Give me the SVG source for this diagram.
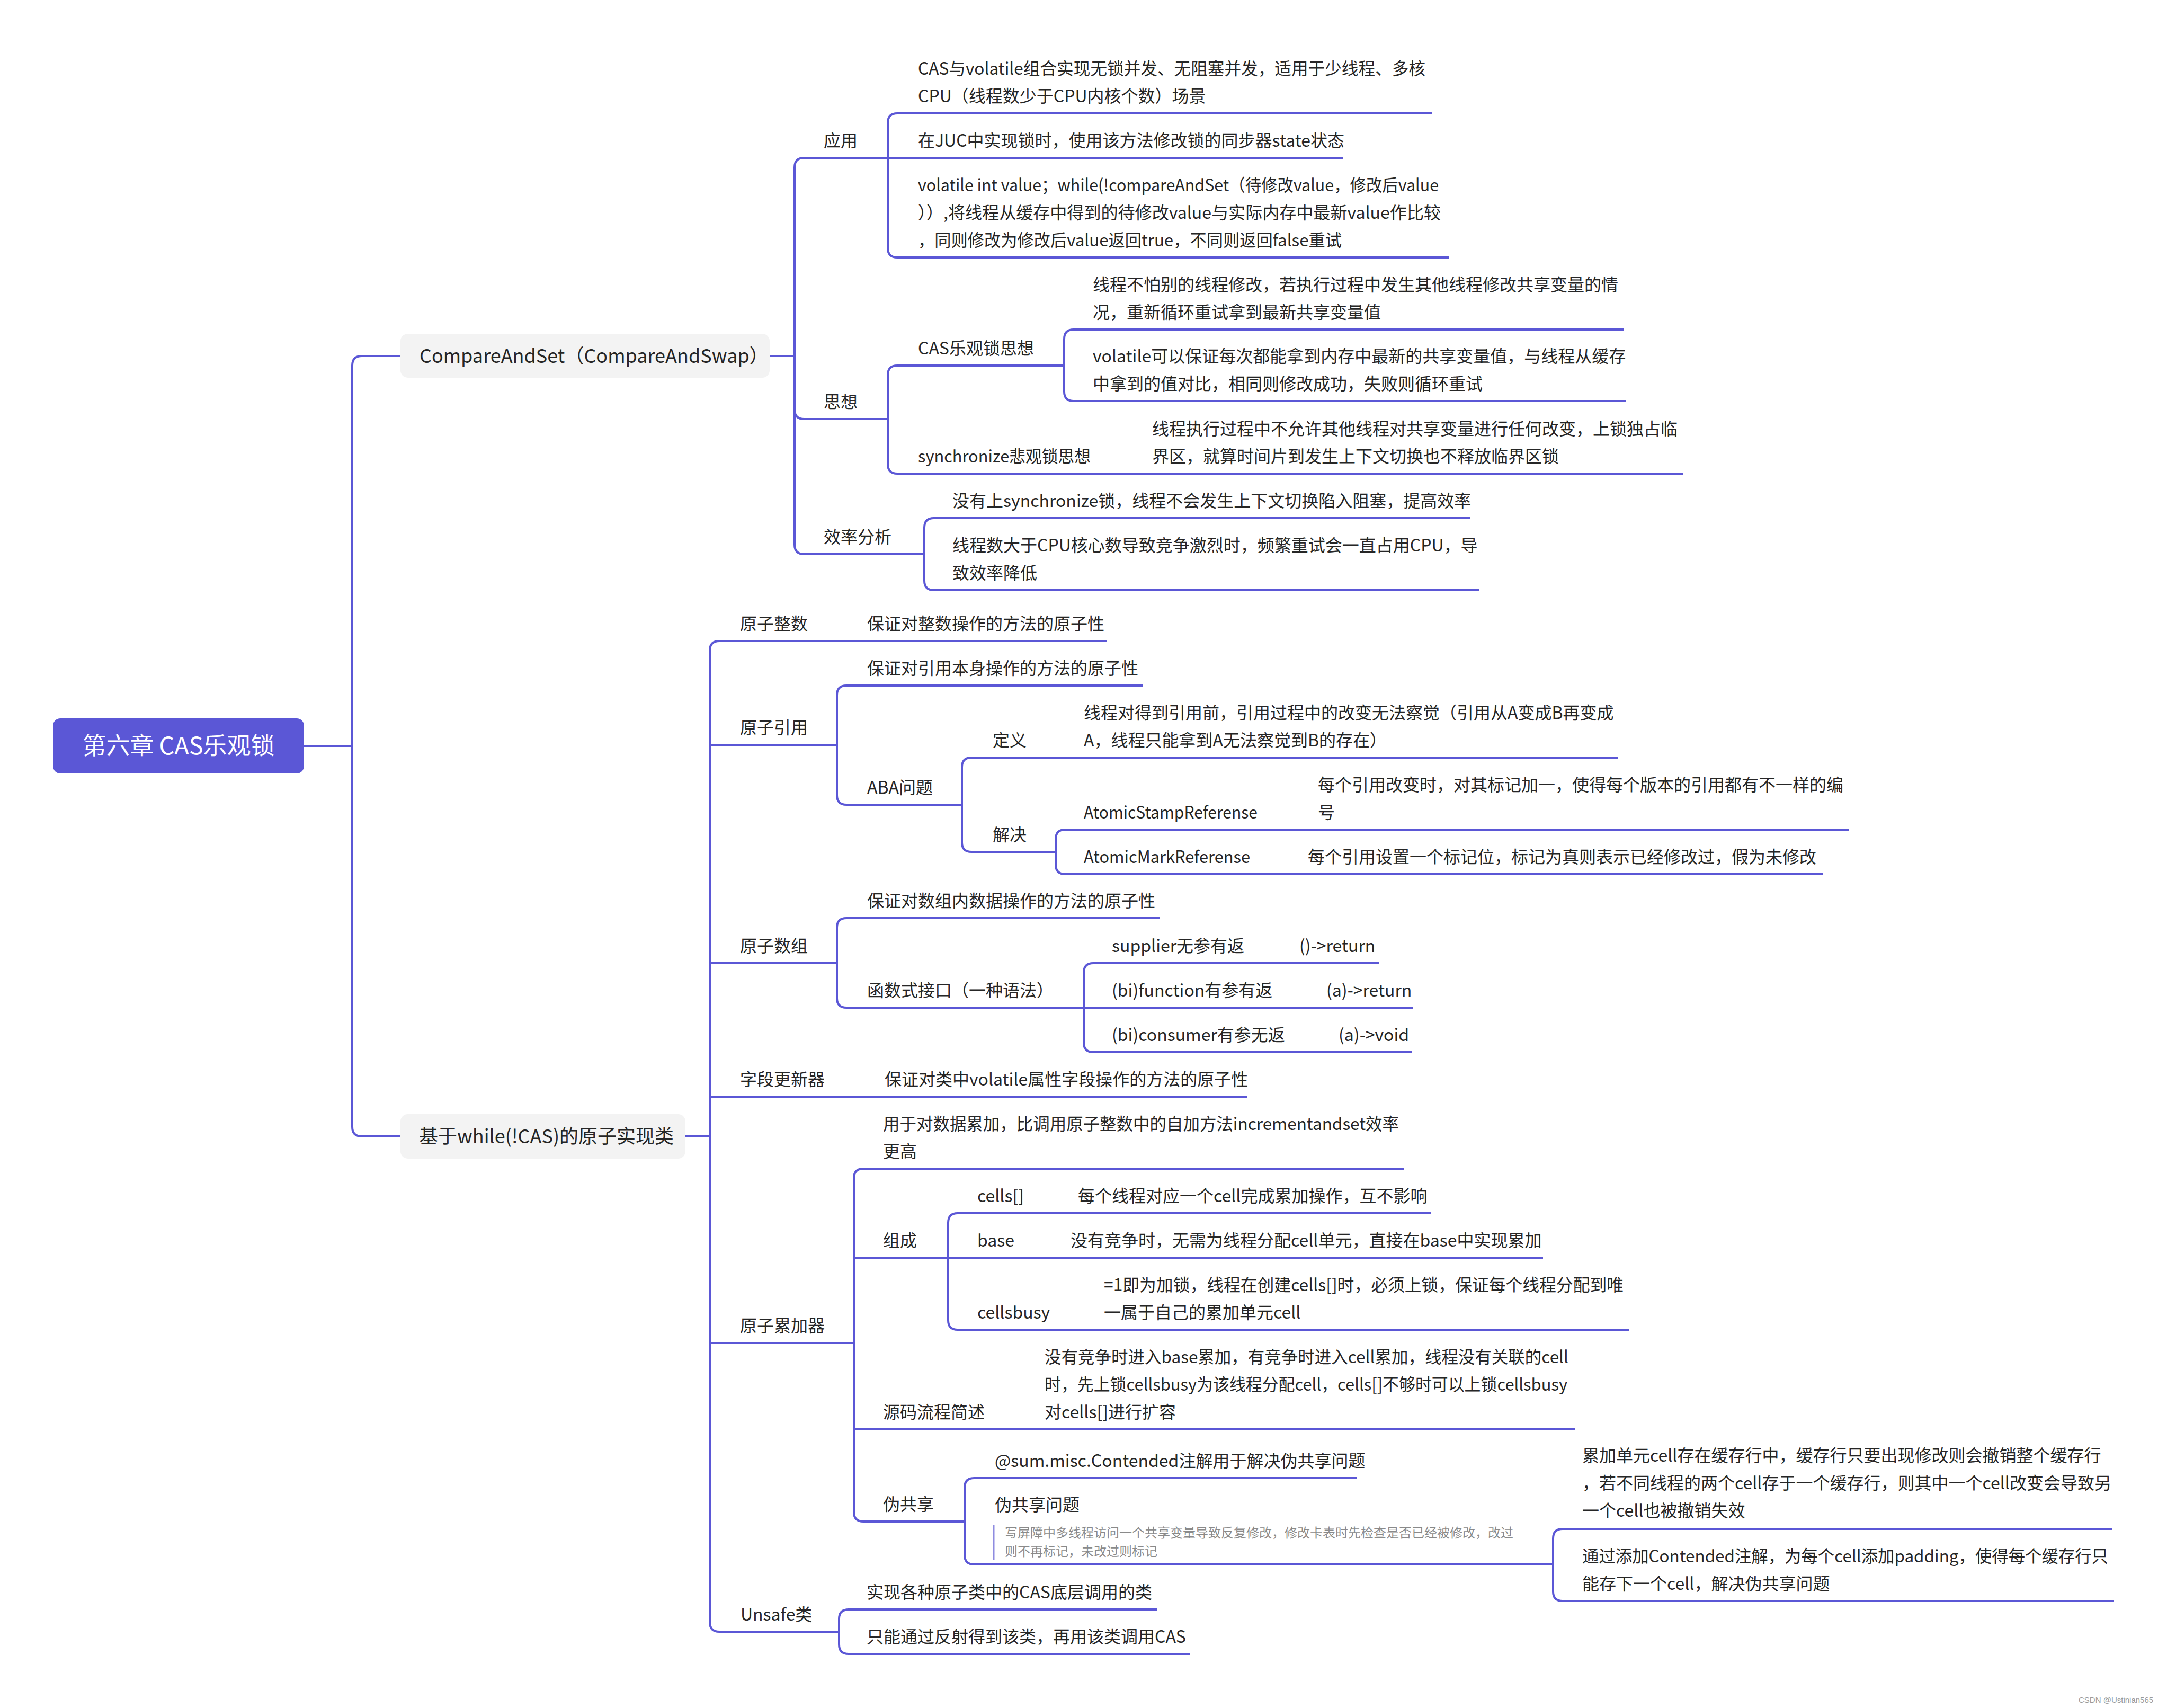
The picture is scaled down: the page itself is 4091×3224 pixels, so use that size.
<svg xmlns="http://www.w3.org/2000/svg" width="4091" height="3224" viewBox="0 0 4091 3224">
<style>
.c{fill:none;stroke:#5B57D6;stroke-width:4;stroke-linecap:butt;stroke-linejoin:round}
.t{font-family:"Noto Sans CJK SC","Noto Sans",sans-serif;font-size:32px;fill:#262626}
.l1{font-family:"Noto Sans CJK SC","Noto Sans",sans-serif;font-size:36px;fill:#262626}
.rt{font-family:"Noto Sans CJK SC","Noto Sans",sans-serif;font-size:45px;fill:#ffffff}
.note{font-family:"Noto Sans CJK SC","Noto Sans",sans-serif;font-size:24px;fill:#8a8a8a}
.box{fill:#F3F3F3}
.wm{font-family:"Liberation Sans",Arial,sans-serif;font-size:15px;fill:#9a9a9a}
</style>
<rect width="4091" height="3224" fill="#ffffff"/>
<g id="connectors">
<path class="c" d="M574 1408H665V690Q665 672 683 672H756"/>
<path class="c" d="M665 1408V2127Q665 2145 683 2145H756"/>
<path class="c" d="M1453 672H1500V316Q1500 298 1518 298H1676"/>
<path class="c" d="M1500 672V773Q1500 791 1518 791H1676"/>
<path class="c" d="M1500 672V1028Q1500 1046 1518 1046H1745"/>
<path class="c" d="M1676 298V232Q1676 214 1694 214H2703"/>
<path class="c" d="M1676 298H2535"/>
<path class="c" d="M1676 298V468Q1676 486 1694 486H2736"/>
<path class="c" d="M1676 791V708Q1676 690 1694 690H2009"/>
<path class="c" d="M1676 791V876Q1676 894 1694 894H3177"/>
<path class="c" d="M2009 690V640Q2009 622 2027 622H3066"/>
<path class="c" d="M2009 690V739Q2009 757 2027 757H3069"/>
<path class="c" d="M1745 1046V996Q1745 978 1763 978H2776"/>
<path class="c" d="M1745 1046V1096Q1745 1114 1763 1114H2792"/>
<path class="c" d="M1294 2145H1340V1228Q1340 1210 1358 1210H2090"/>
<path class="c" d="M1340 2145V1406H1580"/>
<path class="c" d="M1340 2145V1818H1580"/>
<path class="c" d="M1340 2145V2070H2355"/>
<path class="c" d="M1340 2145V2535H1612"/>
<path class="c" d="M1340 2145V3062Q1340 3080 1358 3080H1584"/>
<path class="c" d="M1580 1406V1312Q1580 1294 1598 1294H2158"/>
<path class="c" d="M1580 1406V1501Q1580 1519 1598 1519H1816"/>
<path class="c" d="M1816 1519V1448Q1816 1430 1834 1430H3055"/>
<path class="c" d="M1816 1519V1590Q1816 1608 1834 1608H1993"/>
<path class="c" d="M1993 1608V1584Q1993 1566 2011 1566H3490"/>
<path class="c" d="M1993 1608V1632Q1993 1650 2011 1650H3442"/>
<path class="c" d="M1580 1818V1751Q1580 1733 1598 1733H2190"/>
<path class="c" d="M1580 1818V1884Q1580 1902 1598 1902H2046"/>
<path class="c" d="M2046 1902V1836Q2046 1818 2064 1818H2603"/>
<path class="c" d="M2046 1902H2668"/>
<path class="c" d="M2046 1902V1968Q2046 1986 2064 1986H2666"/>
<path class="c" d="M1612 2535V2224Q1612 2206 1630 2206H2651"/>
<path class="c" d="M1612 2535V2374H1790"/>
<path class="c" d="M1612 2535V2698H2974"/>
<path class="c" d="M1612 2535V2854Q1612 2872 1630 2872H1821"/>
<path class="c" d="M1790 2374V2308Q1790 2290 1808 2290H2701"/>
<path class="c" d="M1790 2374H2913"/>
<path class="c" d="M1790 2374V2492Q1790 2510 1808 2510H3076"/>
<path class="c" d="M1821 2872V2808Q1821 2790 1839 2790H2561"/>
<path class="c" d="M1821 2872V2935Q1821 2953 1839 2953H2932"/>
<path class="c" d="M2932 2953V2904Q2932 2886 2950 2886H3987"/>
<path class="c" d="M2932 2953V3004Q2932 3022 2950 3022H3991"/>
<path class="c" d="M1584 3080V3056Q1584 3038 1602 3038H2184"/>
<path class="c" d="M1584 3080V3104Q1584 3122 1602 3122H2247"/>
</g>
<g id="root">
<rect x="100" y="1356" width="474" height="104" rx="14" fill="#5B57D6"/>
<text class="rt" x="337" y="1424" text-anchor="middle">第六章 CAS乐观锁</text>
</g>
<g id="n-cas">
<rect class="box" x="756" y="630" width="697" height="83" rx="14"/>
<text class="l1" x="792" y="685">CompareAndSet（CompareAndSwap）</text>
</g>
<g id="n-yingyong"><text class="t" x="1555" y="277">应用</text></g>
<g id="n-yy1"><text class="t"><tspan x="1733" y="141" textLength="958" lengthAdjust="spacingAndGlyphs">CAS与volatile组合实现无锁并发、无阻塞并发，适用于少线程、多核</tspan><tspan x="1733" y="193">CPU（线程数少于CPU内核个数）场景</tspan></text></g>
<g id="n-yy2"><text class="t" x="1733" y="277">在JUC中实现锁时，使用该方法修改锁的同步器state状态</text></g>
<g id="n-yy3">
<text class="t" x="1733" y="361" textLength="983" lengthAdjust="spacingAndGlyphs">volatile int value；while(!compareAndSet（待修改value，修改后value</text>
<text class="t" x="1733" y="413" textLength="987" lengthAdjust="spacingAndGlyphs">））,将线程从缓存中得到的待修改value与实际内存中最新value作比较</text>
<text class="t" x="1733" y="465" textLength="800" lengthAdjust="spacingAndGlyphs">，同则修改为修改后value返回true，不同则返回false重试</text>
</g>
<g id="n-sixiang"><text class="t" x="1555" y="770">思想</text></g>
<g id="n-cas-opt"><text class="t" x="1733" y="669">CAS乐观锁思想</text></g>
<g id="n-opt1"><text class="t"><tspan x="2063" y="549">线程不怕别的线程修改，若执行过程中发生其他线程修改共享变量的情</tspan><tspan x="2063" y="601">况，重新循环重试拿到最新共享变量值</tspan></text></g>
<g id="n-opt2"><text class="t"><tspan x="2063" y="684">volatile可以保证每次都能拿到内存中最新的共享变量值，与线程从缓存</tspan><tspan x="2063" y="736">中拿到的值对比，相同则修改成功，失败则循环重试</tspan></text></g>
<g id="n-sync"><text class="t" x="1733" y="873" textLength="326" lengthAdjust="spacingAndGlyphs">synchronize悲观锁思想</text></g>
<g id="n-sync1"><text class="t"><tspan x="2175" y="821">线程执行过程中不允许其他线程对共享变量进行任何改变，上锁独占临</tspan><tspan x="2175" y="873">界区，就算时间片到发生上下文切换也不释放临界区锁</tspan></text></g>
<g id="n-xiaolv"><text class="t" x="1555" y="1025">效率分析</text></g>
<g id="n-xl1"><text class="t" x="1798" y="957">没有上synchronize锁，线程不会发生上下文切换陷入阻塞，提高效率</text></g>
<g id="n-xl2"><text class="t"><tspan x="1798" y="1041">线程数大于CPU核心数导致竞争激烈时，频繁重试会一直占用CPU，导</tspan><tspan x="1798" y="1093">致效率降低</tspan></text></g>
<g id="n-atomic">
<rect class="box" x="756" y="2103" width="538" height="84" rx="14"/>
<text class="l1" x="791" y="2158">基于while(!CAS)的原子实现类</text>
</g>
<g id="n-int"><text class="t" x="1397" y="1189">原子整数</text></g>
<g id="n-int1"><text class="t" x="1637" y="1189">保证对整数操作的方法的原子性</text></g>
<g id="n-ref"><text class="t" x="1397" y="1385">原子引用</text></g>
<g id="n-ref1"><text class="t" x="1637" y="1273">保证对引用本身操作的方法的原子性</text></g>
<g id="n-aba"><text class="t" x="1637" y="1498">ABA问题</text></g>
<g id="n-def"><text class="t" x="1874" y="1409">定义</text></g>
<g id="n-def1"><text class="t"><tspan x="2046" y="1357">线程对得到引用前，引用过程中的改变无法察觉（引用从A变成B再变成</tspan><tspan x="2046" y="1409">A，线程只能拿到A无法察觉到B的存在）</tspan></text></g>
<g id="n-solve"><text class="t" x="1874" y="1587">解决</text></g>
<g id="n-stamp"><text class="t" x="2046" y="1545" textLength="328" lengthAdjust="spacingAndGlyphs">AtomicStampReferense</text></g>
<g id="n-stamp1"><text class="t"><tspan x="2488" y="1493">每个引用改变时，对其标记加一，使得每个版本的引用都有不一样的编</tspan><tspan x="2488" y="1545">号</tspan></text></g>
<g id="n-mark"><text class="t" x="2046" y="1629" textLength="314" lengthAdjust="spacingAndGlyphs">AtomicMarkReferense</text></g>
<g id="n-mark1"><text class="t" x="2469" y="1629">每个引用设置一个标记位，标记为真则表示已经修改过，假为未修改</text></g>
<g id="n-arr"><text class="t" x="1397" y="1797">原子数组</text></g>
<g id="n-arr1"><text class="t" x="1637" y="1712">保证对数组内数据操作的方法的原子性</text></g>
<g id="n-func"><text class="t" x="1637" y="1881">函数式接口（一种语法）</text></g>
<g id="n-supplier"><text class="t" x="2099" y="1797">supplier无参有返</text></g>
<g id="n-supplier1"><text class="t" x="2453" y="1797">()-&gt;return</text></g>
<g id="n-function"><text class="t" x="2099" y="1881">(bi)function有参有返</text></g>
<g id="n-function1"><text class="t" x="2504" y="1881">(a)-&gt;return</text></g>
<g id="n-consumer"><text class="t" x="2099" y="1965">(bi)consumer有参无返</text></g>
<g id="n-consumer1"><text class="t" x="2527" y="1965">(a)-&gt;void</text></g>
<g id="n-field"><text class="t" x="1397" y="2049">字段更新器</text></g>
<g id="n-field1"><text class="t" x="1670" y="2049">保证对类中volatile属性字段操作的方法的原子性</text></g>
<g id="n-adder"><text class="t" x="1397" y="2514">原子累加器</text></g>
<g id="n-adder1"><text class="t"><tspan x="1667" y="2133" textLength="974" lengthAdjust="spacingAndGlyphs">用于对数据累加，比调用原子整数中的自加方法incrementandset效率</tspan><tspan x="1667" y="2185">更高</tspan></text></g>
<g id="n-zucheng"><text class="t" x="1667" y="2353">组成</text></g>
<g id="n-cells"><text class="t" x="1845" y="2269">cells[]</text></g>
<g id="n-cells1"><text class="t" x="2035" y="2269">每个线程对应一个cell完成累加操作，互不影响</text></g>
<g id="n-base"><text class="t" x="1845" y="2353">base</text></g>
<g id="n-base1"><text class="t" x="2021" y="2353">没有竞争时，无需为线程分配cell单元，直接在base中实现累加</text></g>
<g id="n-busy"><text class="t" x="1845" y="2489">cellsbusy</text></g>
<g id="n-busy1"><text class="t"><tspan x="2084" y="2437" textLength="981" lengthAdjust="spacingAndGlyphs">=1即为加锁，线程在创建cells[]时，必须上锁，保证每个线程分配到唯</tspan><tspan x="2084" y="2489">一属于自己的累加单元cell</tspan></text></g>
<g id="n-src"><text class="t"><tspan x="1972" y="2573" textLength="989" lengthAdjust="spacingAndGlyphs">没有竞争时进入base累加，有竞争时进入cell累加，线程没有关联的cell</tspan><tspan x="1972" y="2625" textLength="987" lengthAdjust="spacingAndGlyphs">时，先上锁cellsbusy为该线程分配cell，cells[]不够时可以上锁cellsbusy</tspan><tspan x="1972" y="2677">对cells[]进行扩容</tspan></text></g>
<g id="n-src0"><text class="t" x="1667" y="2677">源码流程简述</text></g>
<g id="n-false"><text class="t" x="1667" y="2851">伪共享</text></g>
<g id="n-false1"><text class="t" x="1878" y="2769">@sum.misc.Contended注解用于解决伪共享问题</text></g>
<g id="n-false2">
<text class="t" x="1878" y="2852">伪共享问题</text>
<line x1="1876" y1="2878" x2="1876" y2="2945" stroke="#8F8CE0" stroke-width="3"/>
<text class="note"><tspan x="1897" y="2902">写屏障中多线程访问一个共享变量导致反复修改，修改卡表时先检查是否已经被修改，改过</tspan><tspan x="1897" y="2937">则不再标记，未改过则标记</tspan></text>
</g>
<g id="n-false3"><text class="t"><tspan x="2987" y="2759">累加单元cell存在缓存行中，缓存行只要出现修改则会撤销整个缓存行</tspan><tspan x="2987" y="2811">，若不同线程的两个cell存于一个缓存行，则其中一个cell改变会导致另</tspan><tspan x="2987" y="2863">一个cell也被撤销失效</tspan></text></g>
<g id="n-false4"><text class="t"><tspan x="2987" y="2949" textLength="993" lengthAdjust="spacingAndGlyphs">通过添加Contended注解，为每个cell添加padding，使得每个缓存行只</tspan><tspan x="2987" y="3001">能存下一个cell，解决伪共享问题</tspan></text></g>
<g id="n-unsafe"><text class="t" x="1398" y="3059">Unsafe类</text></g>
<g id="n-unsafe1"><text class="t" x="1636" y="3017">实现各种原子类中的CAS底层调用的类</text></g>
<g id="n-unsafe2"><text class="t" x="1636" y="3101">只能通过反射得到该类，再用该类调用CAS</text></g>
<text class="wm" x="3924" y="3214">CSDN @Ustinian565</text>
</svg>
